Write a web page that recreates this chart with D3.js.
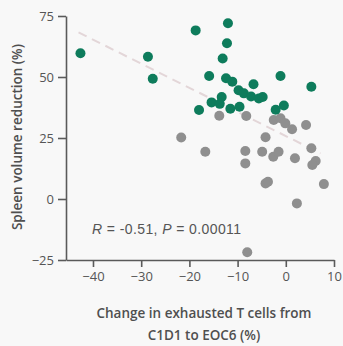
<!DOCTYPE html>
<html>
<head>
<meta charset="utf-8">
<script src="https://cdn.jsdelivr.net/npm/d3@7/dist/d3.min.js"></script>
<style>
  html, body { margin: 0; padding: 0; background: #f8f8f8; }
  svg { display: block; }
</style>
</head>
<body>
<script>
// change in exhausted T cells (x) vs spleen volume reduction (y)
const greenX = [-42.6, -28.6, -27.6, -18.7, -12.0, -12.2, -13.1, -15.9, -12.4, -11.1, -6.7, -1.1, 5.3,
  -9.8, -8.7, -7.2, -5.6, -4.8, -13.3, -18.0, -15.4, -13.7, -11.5, -9.6, -2.1, -0.4]
const greenY = [59.7, 58.3, 49.3, 69.1, 72.0, 63.8, 57.6, 50.4, 49.5, 48.1, 47.0, 50.4, 46.0,
  44.6, 43.3, 42.0, 41.2, 41.8, 41.8, 36.5, 39.6, 39.0, 37.0, 37.8, 36.6, 38.3]
const grayX = [-21.7, -13.8, -8.2, -2.5, -1.1, -0.1, 1.3, 4.2, -4.2, -16.7, -8.4, -8.4, -4.9, -2.6,
  -1.5, 1.9, 5.3, 6.2, 5.5, -4.2, -3.7, 7.9, 2.3, -8.0]
const grayY = [25.2, 34.1, 34.0, 32.4, 33.1, 31.0, 28.6, 30.3, 25.3, 19.4, 19.7, 14.6, 19.4, 17.3,
  19.4, 16.7, 20.8, 15.6, 13.9, 6.4, 7.1, 6.1, -1.8, -21.8]
const trendX = [-43, 7.2]
const trendY = [68.3, 18.7]
const xTicks = [-40, -30, -20, -10, 0, 10]
const yTicks = [-25, 0, 25, 50, 75]

const width = 343
const height = 346
const margin = { top: 16, right: 9, bottom: 86, left: 66 }

const svg = d3.select('body').append('svg')
  .attr('width', width)
  .attr('height', height)

svg.append('rect')
  .attr('width', width)
  .attr('height', height)
  .attr('fill', '#f8f8f8')

const x = d3.scaleLinear()
  .domain([-45.6, 10])
  .range([margin.left, width - margin.right])
const y = d3.scaleLinear()
  .domain([-25, 75])
  .range([height - margin.bottom, margin.top])

const axisColour = '#5a5a5a'
const font = '"Open Sans", sans-serif'

// Axes
const xAxis = svg.append('g')
  .attr('transform', `translate(0,${y(-25)})`)
  .call(d3.axisBottom(x).tickValues(xTicks).tickSize(7).tickSizeOuter(0).tickPadding(5))
const yAxis = svg.append('g')
  .attr('transform', `translate(${x(-45.6)},0)`)
  .call(d3.axisLeft(y).tickValues(yTicks).tickSize(8).tickSizeOuter(0).tickPadding(4))

for (const ax of [xAxis, yAxis]) {
  ax.select('.domain').attr('stroke', axisColour).attr('stroke-width', 1.6)
  ax.selectAll('.tick line').attr('stroke', axisColour).attr('stroke-width', 1.6)
  ax.selectAll('.tick text')
    .attr('fill', '#555')
    .style('font-family', font)
    .style('font-size', '13px')
}

// Trend line
svg.append('line')
  .attr('x1', x(trendX[0]))
  .attr('y1', y(trendY[0]))
  .attr('x2', x(trendX[1]))
  .attr('y2', y(trendY[1]))
  .attr('stroke', '#e3d6d8')
  .attr('stroke-width', 2)
  .attr('stroke-dasharray', '9,6')

// Points
const grayPts = grayX.map((v, i) => [v, grayY[i]])
const greenPts = greenX.map((v, i) => [v, greenY[i]])

svg.append('g').selectAll('circle')
  .data(grayPts)
  .enter()
  .append('circle')
  .attr('cx', d => x(d[0]))
  .attr('cy', d => y(d[1]))
  .attr('r', 5)
  .attr('fill', '#8f8f8f')

svg.append('g').selectAll('circle')
  .data(greenPts)
  .enter()
  .append('circle')
  .attr('cx', d => x(d[0]))
  .attr('cy', d => y(d[1]))
  .attr('r', 5)
  .attr('fill', '#0e7c5c')

// Stats label
const stats = svg.append('text')
  .attr('x', 92)
  .attr('y', 234)
  .attr('fill', '#555')
  .style('font-family', '"Liberation Sans", Arial, sans-serif')
  .style('font-size', '14px')
  .style('letter-spacing', '0.4px')
stats.append('tspan').attr('font-style', 'italic').text('R')
stats.append('tspan').text(' = -0.51, ')
stats.append('tspan').attr('font-style', 'italic').text('P')
stats.append('tspan').text(' = 0.00011')

// Axis titles
const xTitle = svg.append('text')
  .attr('text-anchor', 'middle')
  .attr('fill', '#4f4f4f')
  .style('font-family', font)
  .style('font-size', '13.5px')
  .style('font-weight', 600)
xTitle.append('tspan').attr('x', 204).attr('y', 318).text('Change in exhausted T cells from')
xTitle.append('tspan').attr('x', 204).attr('y', 340).text('C1D1 to EOC6 (%)')

svg.append('text')
  .attr('transform', `translate(22,${137}) rotate(-90)`)
  .attr('text-anchor', 'middle')
  .attr('fill', '#4f4f4f')
  .style('font-family', font)
  .style('font-size', '13.5px')
  .style('font-weight', 600)
  .text('Spleen volume reduction (%)')
</script>
</body>
</html>
